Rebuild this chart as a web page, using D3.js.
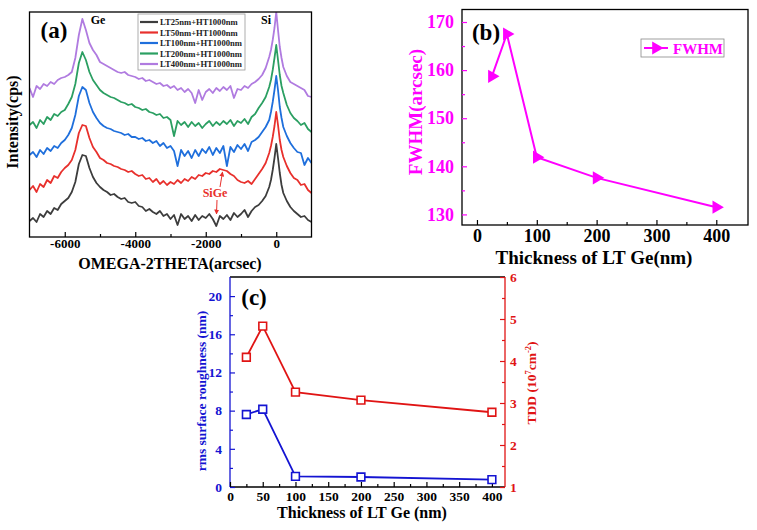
<!DOCTYPE html>
<html><head><meta charset="utf-8">
<script src="https://cdn.jsdelivr.net/npm/d3@7"></script>
<style>body{margin:0;background:#fff}svg{display:block}</style>
</head><body><svg id="c" width="757" height="530"></svg>
<script>
// ---------- Panel (a): XRD omega-2theta scans (offset intensity, a.u.) ----------
const xrdAngle = [-7000,-6900,-6800,-6700,-6600,-6500,-6400,-6300,-6200,-6100,-6000,-5900,-5800,-5700,-5600,-5500,-5400,-5300,-5200,-5100,-5000,-4900,-4800,-4700,-4600,-4500,-4400,-4300,-4200,-4100,-4000,-3900,-3800,-3700,-3600,-3500,-3400,-3300,-3200,-3100,-3000,-2900,-2800,-2700,-2600,-2500,-2400,-2300,-2200,-2100,-2000,-1900,-1800,-1700,-1600,-1500,-1400,-1300,-1200,-1100,-1000,-900,-800,-700,-600,-500,-400,-300,-200,-150,-100,-50,0,50,100,150,200,300,400,500,600,700,800,900,1000];
const xrdLT25 = [16,19,15,23,20,26,23,29,27,33,36,39,45,55,73,82,81,69,60,54,50,47,45,42,43,40,38,39,35,34,35,31,30,26,28,25,23,26,21,23,18,22,12,23,18,21,16,22,17,21,19,23,18,11,21,18,22,17,24,20,23,27,20,26,30,32,36,41,50,57,67,79,93,79,64,52,44,36,30,26,23,20,21,17,15];
const xrdLT50 = [47,51,45,53,50,57,54,61,59,65,69,72,77,87,104,112,111,99,90,85,79,77,74,73,71,70,68,67,65,66,63,61,62,58,59,55,58,53,56,52,55,53,57,54,58,56,60,58,62,61,64,63,66,65,68,67,66,63,61,57,55,54,56,53,58,63,68,74,84,91,100,111,125,112,97,87,80,71,64,59,57,52,53,47,44];
const xrdLT100 = [82,85,80,87,83,89,86,91,89,94,97,102,109,122,141,150,147,134,125,119,114,111,109,108,106,105,104,102,103,100,100,98,99,96,97,94,96,91,94,89,91,86,71,87,81,86,79,87,81,88,84,90,82,89,84,91,71,90,85,92,88,93,86,95,97,100,105,110,117,125,135,147,161,147,130,119,110,101,94,89,85,84,72,79,74];
const xrdLT200 = [112,115,109,117,113,120,117,123,121,125,127,133,140,153,174,185,177,165,157,152,147,144,142,140,139,137,135,134,132,133,130,129,127,128,125,124,122,123,119,120,117,101,116,112,115,110,115,111,114,109,113,116,111,115,112,116,113,117,111,116,114,118,113,120,123,129,134,140,150,157,167,179,192,177,162,151,144,132,124,119,116,112,114,108,105];
const xrdLT400 = [149,140,151,148,153,151,155,153,157,159,160,162,165,179,202,218,207,194,187,182,175,173,171,169,167,165,164,165,162,161,160,158,159,156,157,155,153,154,151,152,149,151,147,149,145,148,144,134,147,137,145,148,144,149,146,150,147,151,139,148,147,151,149,153,155,158,162,169,180,187,197,209,225,207,190,179,170,161,155,153,151,149,147,141,140];
const xrdSeries = [xrdLT25, xrdLT50, xrdLT100, xrdLT200, xrdLT400];
const xrdLabels = ["LT25nm+HT1000nm","LT50nm+HT1000nm","LT100nm+HT1000nm","LT200nm+HT1000nm","LT400nm+HT1000nm"];
const xrdTicks = [-6000,-4000,-2000,0];
const xrdMinorTicks = [-5000,-3000,-1000];

// ---------- Panel (b): FWHM ----------
const fwhmThickness = [25,50,100,200,400];
const fwhmValues = [158.7,167.5,141.9,137.6,131.5];
const fwhmYTicks = [130,140,150,160,170];
const fwhmYMinor = [135,145,155,165];
const fwhmXTicks = [0,100,200,300,400];
const fwhmXMinor = [50,150,250,350];

// ---------- Panel (c): roughness & TDD ----------
const ltThickness = [25,50,100,200,400];
const rmsRoughness = [7.6,8.15,1.12,1.05,0.77];
const tddValues = [4.09,4.83,3.26,3.07,2.78];
const cXTicks = [0,50,100,150,200,250,300,350,400];
const cXMinor = [25,75,125,175,225,275,325,375];
const cLeftTicks = [0,4,8,12,16,20];
const cLeftMinor = [2,6,10,14,18];
const cRightTicks = [1,2,3,4,5,6];
const cRightMinor = [1.5,2.5,3.5,4.5,5.5];

// ---------- styles ----------
const FONT = "'Liberation Serif','Times New Roman',serif";
const xrdColors = ["#3d3d3d","#e8302c","#1f6fdc","#2b9f62","#b07be0"];
const MAG = "#ff00ff", CBLUE = "#1414d2", CRED = "#e01414";

const svg = d3.select("#c");
svg.append("rect").attr("width",757).attr("height",530).attr("fill","#fff");
const defs = svg.append("defs");

function styleAxis(g, size, color){
  g.attr("font-family", FONT).attr("font-size", size).attr("font-weight","bold");
  g.select(".domain").remove();
  g.selectAll(".tick line").attr("stroke", color).attr("stroke-width",1.2);
  g.selectAll(".tick text").attr("fill", color);
}
function label(x,y,txt,size,color,opts={}){
  const t = svg.append("text").attr("x",x).attr("y",y).text(txt)
    .attr("font-family",FONT).attr("font-weight","bold").attr("font-size",size)
    .attr("fill",color).attr("text-anchor",opts.anchor||"middle");
  if(opts.rotate) t.attr("transform",`rotate(-90,${x},${y})`);
  return t;
}
const intFmt = d => String(d);

// ================= Panel (a) =================
{
  const xA = d3.scaleLinear().domain([-7000,1000]).range([29.5,311.5]);
  const yA = d3.scaleLinear().domain([0,225]).range([237,12]);
  defs.append("clipPath").attr("id","clipA").append("rect")
    .attr("x",29.5).attr("y",12).attr("width",282).attr("height",225);
  const line = d3.line().x((d,i)=>xA(xrdAngle[i])).y(d=>yA(d));
  xrdSeries.forEach((s,i)=>{
    svg.append("path").datum(s).attr("d",line).attr("clip-path","url(#clipA)")
      .attr("fill","none").attr("stroke",xrdColors[i]).attr("stroke-width",1.8)
      .attr("stroke-linejoin","round");
  });
  svg.append("rect").attr("x",29.5).attr("y",12).attr("width",282).attr("height",225)
    .attr("fill","none").attr("stroke","#000").attr("stroke-width",1.3);
  const ax = svg.append("g").attr("transform","translate(0,237)")
    .call(d3.axisBottom(xA).tickValues(xrdTicks).tickSizeInner(-5).tickSizeOuter(0).tickPadding(2).tickFormat(intFmt));
  styleAxis(ax,13,"#000");
  const axm = svg.append("g").attr("transform","translate(0,237)")
    .call(d3.axisBottom(xA).tickValues(xrdMinorTicks).tickSizeInner(-3).tickSizeOuter(0).tickFormat(""));
  styleAxis(axm,13,"#000");
  label(170,269,"OMEGA-2THETA(arcsec)",16,"#000");
  label(18,122,"Intensity(cps)",16,"#000",{rotate:true});
  label(54,38,"(a)",23,"#000");
  label(98,24,"Ge",12,"#000");
  label(266,24,"Si",12,"#000");
  // legend
  svg.append("rect").attr("x",138).attr("y",14).attr("width",107).attr("height",56)
    .attr("fill","#fff").attr("stroke","#999").attr("stroke-width",0.8);
  xrdLabels.forEach((l,i)=>{
    const y = 22 + i*10.5;
    svg.append("line").attr("x1",140).attr("x2",158).attr("y1",y).attr("y2",y)
      .attr("stroke",xrdColors[i]).attr("stroke-width",2.2);
    label(160,y+3,l,8.6,"#222",{anchor:"start"});
  });
  // SiGe annotation
  label(215,197,"SiGe",12,"#e8302c");
  const mk = defs.append("marker").attr("id","arr").attr("viewBox","0 0 10 10")
    .attr("refX",9).attr("refY",5).attr("markerWidth",5).attr("markerHeight",5).attr("orient","auto");
  mk.append("path").attr("d","M0,0L10,5L0,10z").attr("fill","#e8302c");
  svg.append("line").attr("x1",220).attr("y1",187).attr("x2",222.5).attr("y2",172)
    .attr("stroke","#e8302c").attr("stroke-width",1).attr("marker-end","url(#arr)");
  svg.append("line").attr("x1",217).attr("y1",200).attr("x2",216.5).attr("y2",214)
    .attr("stroke","#e8302c").attr("stroke-width",1).attr("marker-end","url(#arr)");
}

// ================= Panel (b) =================
{
  const xB = d3.scaleLinear().domain([-25,453]).range([462,748]);
  const yB = d3.scaleLinear().domain([127.8,172.6]).range([225,9.5]);
  svg.append("rect").attr("x",462).attr("y",9.5).attr("width",286).attr("height",215.5)
    .attr("fill","none").attr("stroke","#000").attr("stroke-width",1.3);
  const ax = svg.append("g").attr("transform","translate(0,225)")
    .call(d3.axisBottom(xB).tickValues(fwhmXTicks).tickSizeInner(-5).tickSizeOuter(0).tickPadding(4).tickFormat(intFmt));
  styleAxis(ax,18,"#000");
  const axm = svg.append("g").attr("transform","translate(0,225)")
    .call(d3.axisBottom(xB).tickValues(fwhmXMinor).tickSizeInner(-3).tickSizeOuter(0).tickFormat(""));
  styleAxis(axm,18,"#000");
  const ay = svg.append("g").attr("transform","translate(462,0)")
    .call(d3.axisLeft(yB).tickValues(fwhmYTicks).tickSizeInner(-5).tickSizeOuter(0).tickPadding(8).tickFormat(intFmt));
  styleAxis(ay,18,MAG);
  const aym = svg.append("g").attr("transform","translate(462,0)")
    .call(d3.axisLeft(yB).tickValues(fwhmYMinor).tickSizeInner(-3).tickSizeOuter(0).tickFormat(""));
  styleAxis(aym,18,MAG);
  const line = d3.line().x((d,i)=>xB(fwhmThickness[i])).y(d=>yB(d));
  svg.append("path").datum(fwhmValues).attr("d",line).attr("fill","none")
    .attr("stroke",MAG).attr("stroke-width",2);
  const tri = d3.symbol().type(d3.symbolTriangle).size(75);
  svg.selectAll(".triB").data(fwhmValues).enter().append("path")
    .attr("d",tri).attr("fill",MAG)
    .attr("transform",(d,i)=>`translate(${xB(fwhmThickness[i])},${yB(d)}) rotate(90)`);
  label(594,264,"Thickness of LT Ge(nm)",19,"#000");
  label(422,112,"FWHM(arcsec)",19,MAG,{rotate:true});
  label(486,40,"(b)",23,"#000");
  // legend
  svg.append("rect").attr("x",641).attr("y",39).attr("width",83).attr("height",18)
    .attr("fill","none").attr("stroke","#888").attr("stroke-width",0.8);
  svg.append("line").attr("x1",644).attr("x2",668).attr("y1",48).attr("y2",48)
    .attr("stroke",MAG).attr("stroke-width",2);
  svg.append("path").attr("d",tri).attr("fill",MAG).attr("transform","translate(656,48) rotate(90)");
  label(673,53.5,"FWHM",15,MAG,{anchor:"start"});
}

// ================= Panel (c) =================
{
  const xC = d3.scaleLinear().domain([0,420]).range([230,505]);
  const yL = d3.scaleLinear().domain([0,22]).range([487,277]);
  const yR = d3.scaleLinear().domain([1,6]).range([487,277]);
  // frame
  svg.append("line").attr("x1",230).attr("x2",505).attr("y1",277).attr("y2",277).attr("stroke","#000").attr("stroke-width",1.3);
  svg.append("line").attr("x1",230).attr("x2",505).attr("y1",487).attr("y2",487).attr("stroke","#000").attr("stroke-width",1.3);
  svg.append("line").attr("x1",230).attr("x2",230).attr("y1",277).attr("y2",487).attr("stroke",CBLUE).attr("stroke-width",1.3);
  svg.append("line").attr("x1",505).attr("x2",505).attr("y1",277).attr("y2",487).attr("stroke",CRED).attr("stroke-width",1.3);
  const ax = svg.append("g").attr("transform","translate(0,487)")
    .call(d3.axisBottom(xC).tickValues(cXTicks).tickSizeInner(-5).tickSizeOuter(0).tickPadding(4).tickFormat(intFmt));
  styleAxis(ax,13.5,"#000");
  const axm = svg.append("g").attr("transform","translate(0,487)")
    .call(d3.axisBottom(xC).tickValues(cXMinor).tickSizeInner(-3).tickSizeOuter(0).tickFormat(""));
  styleAxis(axm,13.5,"#000");
  const al = svg.append("g").attr("transform","translate(230,0)")
    .call(d3.axisLeft(yL).tickValues(cLeftTicks).tickSizeInner(-5).tickSizeOuter(0).tickPadding(8).tickFormat(intFmt));
  styleAxis(al,13.5,CBLUE);
  const alm = svg.append("g").attr("transform","translate(230,0)")
    .call(d3.axisLeft(yL).tickValues(cLeftMinor).tickSizeInner(-3).tickSizeOuter(0).tickFormat(""));
  styleAxis(alm,13.5,CBLUE);
  const ar = svg.append("g").attr("transform","translate(505,0)")
    .call(d3.axisRight(yR).tickValues(cRightTicks).tickSizeInner(-5).tickSizeOuter(0).tickPadding(5).tickFormat(intFmt));
  styleAxis(ar,13.5,CRED);
  const arm = svg.append("g").attr("transform","translate(505,0)")
    .call(d3.axisRight(yR).tickValues(cRightMinor).tickSizeInner(-3).tickSizeOuter(0).tickFormat(""));
  styleAxis(arm,13.5,CRED);

  const sq = d3.symbol().type(d3.symbolSquare).size(60);
  const lineL = d3.line().x((d,i)=>xC(ltThickness[i])).y(d=>yL(d));
  const lineR = d3.line().x((d,i)=>xC(ltThickness[i])).y(d=>yR(d));
  svg.append("path").datum(tddValues).attr("d",lineR).attr("fill","none").attr("stroke",CRED).attr("stroke-width",1.8);
  svg.append("path").datum(rmsRoughness).attr("d",lineL).attr("fill","none").attr("stroke",CBLUE).attr("stroke-width",1.8);
  svg.selectAll(".sqR").data(tddValues).enter().append("path").attr("d",sq)
    .attr("transform",(d,i)=>`translate(${xC(ltThickness[i])},${yR(d)})`)
    .attr("fill","#fff").attr("stroke",CRED).attr("stroke-width",1.6);
  svg.selectAll(".sqL").data(rmsRoughness).enter().append("path").attr("d",sq)
    .attr("transform",(d,i)=>`translate(${xC(ltThickness[i])},${yL(d)})`)
    .attr("fill","#fff").attr("stroke",CBLUE).attr("stroke-width",1.6);

  label(362,518,"Thickness of LT Ge (nm)",16,"#000");
  label(206,391,"rms surface roughness (nm)",13.5,CBLUE,{rotate:true});
  const t = label(536,383,"TDD (10",13.5,CRED,{rotate:true});
  t.append("tspan").attr("font-size",8.5).attr("dy",-5).text("7");
  t.append("tspan").attr("dy",5).text("cm");
  t.append("tspan").attr("font-size",8.5).attr("dy",-5).text("-2");
  t.append("tspan").attr("dy",5).text(")");
  label(254,305,"(c)",23,"#000");
}
</script>
</body></html>
